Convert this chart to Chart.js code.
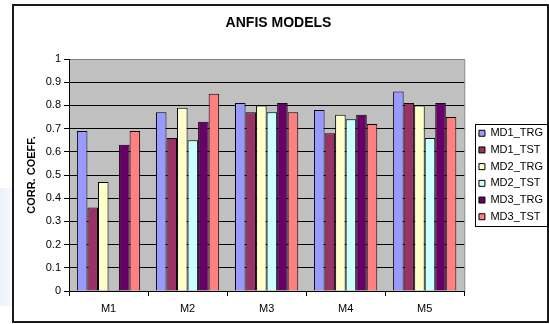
<!DOCTYPE html>
<html>
<head>
<meta charset="utf-8">
<title>ANFIS MODELS</title>
<script src="https://cdn.jsdelivr.net/npm/chart.js@4/dist/chart.umd.min.js"></script>
<style>
  html, body { margin: 0; padding: 0; background: #ffffff; }
  canvas { display: block; }
</style>
</head>
<body>
<canvas id="chart" width="549" height="324"></canvas>
<script>
// Models on the category axis
const categories = ['M1', 'M2', 'M3', 'M4', 'M5'];

// Series names
const seriesNames = ['MD1_TRG', 'MD1_TST', 'MD2_TRG', 'MD2_TST', 'MD3_TRG', 'MD3_TST'];

// Correlation coefficients per model
const md1Trg = [0.69, 0.77, 0.81, 0.78, 0.86];
const md1Tst = [0.36, 0.66, 0.77, 0.68, 0.81];
const md2Trg = [0.47, 0.79, 0.80, 0.76, 0.80];
const md2Tst = [0.004, 0.65, 0.77, 0.74, 0.66];
const md3Trg = [0.63, 0.73, 0.81, 0.76, 0.81];
const md3Tst = [0.69, 0.85, 0.77, 0.72, 0.75];

// Value axis tick labels
const yTickLabels = ['0', '0.1', '0.2', '0.3', '0.4', '0.5', '0.6', '0.7', '0.8', '0.9', '1'];

const seriesValues = [md1Trg, md1Tst, md2Trg, md2Tst, md3Trg, md3Tst];
const seriesColors = ['#9999FF', '#993366', '#FFFFCC', '#CCFFFF', '#660066', '#FF8080'];

const FONT = "'Liberation Sans', Arial, sans-serif";

// Grey plot background, chart frame and legend box
const framePlugin = {
  id: 'frame',
  afterLayout(chart) {
    // leave a small gap between the plot and the legend
    const lg = chart.legend;
    if (lg) { lg.left += 9; lg.right += 9; }
  },
  beforeDraw(chart) {
    const { ctx, chartArea: a } = chart;
    ctx.save();
    // faint pale shape outside the frame on the left
    const g = ctx.createLinearGradient(0, 0, 13, 0);
    g.addColorStop(0, 'rgba(214,228,246,0.5)');
    g.addColorStop(1, 'rgba(228,238,250,0.3)');
    ctx.fillStyle = g;
    ctx.fillRect(0, 188, 12, 118);
    // plot area
    ctx.fillStyle = '#C0C0C0';
    ctx.fillRect(a.left, a.top, a.right - a.left, a.bottom - a.top);
    ctx.strokeStyle = '#808080';
    ctx.lineWidth = 1;
    ctx.beginPath();
    ctx.moveTo(a.left, a.top + 0.5);
    ctx.lineTo(a.right + 0.5, a.top + 0.5);
    ctx.lineTo(a.right + 0.5, a.bottom);
    ctx.stroke();
    ctx.restore();
  },
  afterDraw(chart) {
    const { ctx } = chart;
    ctx.save();
    // outer frame
    ctx.strokeStyle = '#1a1a1a';
    ctx.lineWidth = 2;
    ctx.strokeRect(13, 5, 535, 317);
    // legend border
    const hb = chart.legend && chart.legend.legendHitBoxes;
    if (hb && hb.length) {
      const first = hb[0], last = hb[hb.length - 1];
      const x0 = first.left - 4;
      const y0 = first.top - 4;
      const y1 = last.top + last.height + 4;
      ctx.strokeStyle = '#000000';
      ctx.lineWidth = 1;
      ctx.strokeRect(Math.round(x0) + 0.5, Math.round(y0) + 0.5, 548 - Math.round(x0), Math.round(y1 - y0));
    }
    ctx.restore();
  }
};

new Chart(document.getElementById('chart'), {
  type: 'bar',
  data: {
    labels: categories,
    datasets: seriesNames.map((name, i) => ({
      label: name,
      data: seriesValues[i],
      backgroundColor: seriesColors[i],
      borderColor: '#000000',
      borderWidth: 1,
      borderSkipped: 'bottom',
      categoryPercentage: 0.8,
      barPercentage: 1.0
    }))
  },
  options: {
    responsive: false,
    animation: false,
    devicePixelRatio: 1,
    layout: { padding: { left: 13, top: 5, right: 5, bottom: 2 } },
    plugins: {
      title: {
        display: true,
        text: 'ANFIS MODELS',
        color: '#000000',
        font: { family: FONT, size: 14, weight: 'bold' },
        padding: { top: 9.6, bottom: 27.6 }
      },
      legend: {
        display: true,
        position: 'right',
        align: 'center',
        fullSize: false,
        labels: {
          color: '#000000',
          font: { family: FONT, size: 11 },
          boxWidth: 6,
          boxHeight: 6,
          padding: 5.7
        }
      },
      tooltip: { enabled: false }
    },
    scales: {
      x: {
        grid: {
          offset: true,
          drawOnChartArea: false,
          drawTicks: true,
          tickLength: 5,
          tickColor: '#000000',
          color: '#000000'
        },
        border: { display: true, color: '#000000', width: 1 },
        ticks: {
          color: '#000000',
          font: { family: FONT, size: 11 },
          padding: 6,
          maxRotation: 0
        },
        afterFit(scale) { scale.height = 31; }
      },
      y: {
        min: 0,
        max: 1,
        ticks: {
          stepSize: 0.1,
          color: '#000000',
          font: { family: FONT, size: 11 },
          padding: 3,
          callback: (v, i) => yTickLabels[i]
        },
        grid: {
          color: (c) => (c.index === 10 ? '#808080' : '#000000'),
          lineWidth: 1,
          drawTicks: true,
          tickLength: 5,
          tickColor: '#000000'
        },
        border: { display: true, color: '#000000', width: 1 },
        title: {
          display: true,
          text: 'CORR. COEFF.',
          color: '#000000',
          font: { family: FONT, size: 11, weight: 'bold' },
          padding: { top: 12.4, bottom: 0 }
        },
        afterFit(scale) { scale.width = 56; }
      }
    }
  },
  plugins: [framePlugin]
});
</script>
</body>
</html>
